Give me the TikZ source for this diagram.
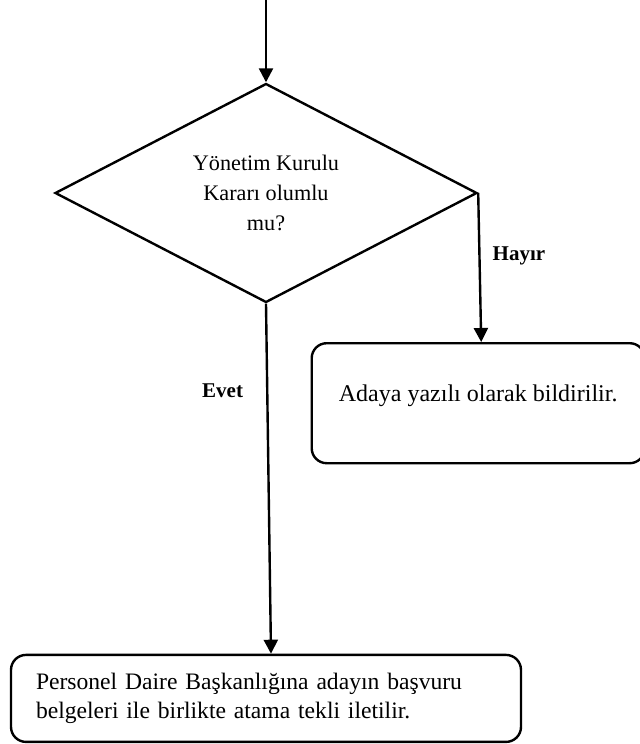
\documentclass[tikz,border=0pt]{standalone}
\usepackage{fontspec}
\setmainfont{Liberation Serif}
\usepackage{tikz}
\usetikzlibrary{arrows.meta}
\usetikzlibrary{positioning}
\usetikzlibrary{shapes.geometric}

\begin{document}
\begin{tikzpicture}[
    x=0.5pt, y=0.5pt,
    every node/.style={font=\fontsize{11.8}{14.6}\selectfont},
    decision/.style={draw, diamond, aspect=2, inner sep=0pt, minimum width=211pt, minimum height=109.5pt, align=center, line width=1.2pt, font=\fontsize{11.1}{14.8}\selectfont},
    roundbox/.style={draw, rectangle, rounded corners=7.5pt, align=left, line width=1.2pt},
    answer/.style={font=\fontsize{10.5}{12}\selectfont\bfseries, inner sep=0pt},
    flow/.style={-{Triangle[length=7pt,width=7pt]}, line width=1.2pt}
]

    \useasboundingbox (0,0) rectangle (640,-744);

    % Incoming flow
    \coordinate (start) at (266,0);

    % Decision: board resolution
    \node[decision] (dec) at (266,-193) {Yönetim Kurulu\\Kararı olumlu\\mu?};

    % No: candidate is notified
    \node[roundbox, minimum width=166.5pt, minimum height=60pt, text height=8pt, text depth=9.5pt, font=\fontsize{12}{14.6}\selectfont] (notify) [below=74.5pt of dec.east] {Adaya yazılı olarak bildirilir.};

    % Yes: forwarded to personnel department
    \node[roundbox, minimum width=255pt, minimum height=43.5pt, text width=230pt, inner xsep=12.5pt] (forward) [below=175pt of dec] {Personel Daire Başkanlığına adayın başvuru\\belgeleri ile birlikte atama tekli iletilir.};

    % Connect arrows
    \draw[flow] (start) -- (dec.north);
    \draw[flow] (dec.east) -- ([xshift=1.5pt]notify.north) node[answer, pos=0.42, right=6pt] {Hayır};
    \draw[flow] (dec.south) -- ([xshift=2.5pt]forward.north) node[answer, pos=0.25, left=11.5pt] {Evet};

\end{tikzpicture}
\end{document}
